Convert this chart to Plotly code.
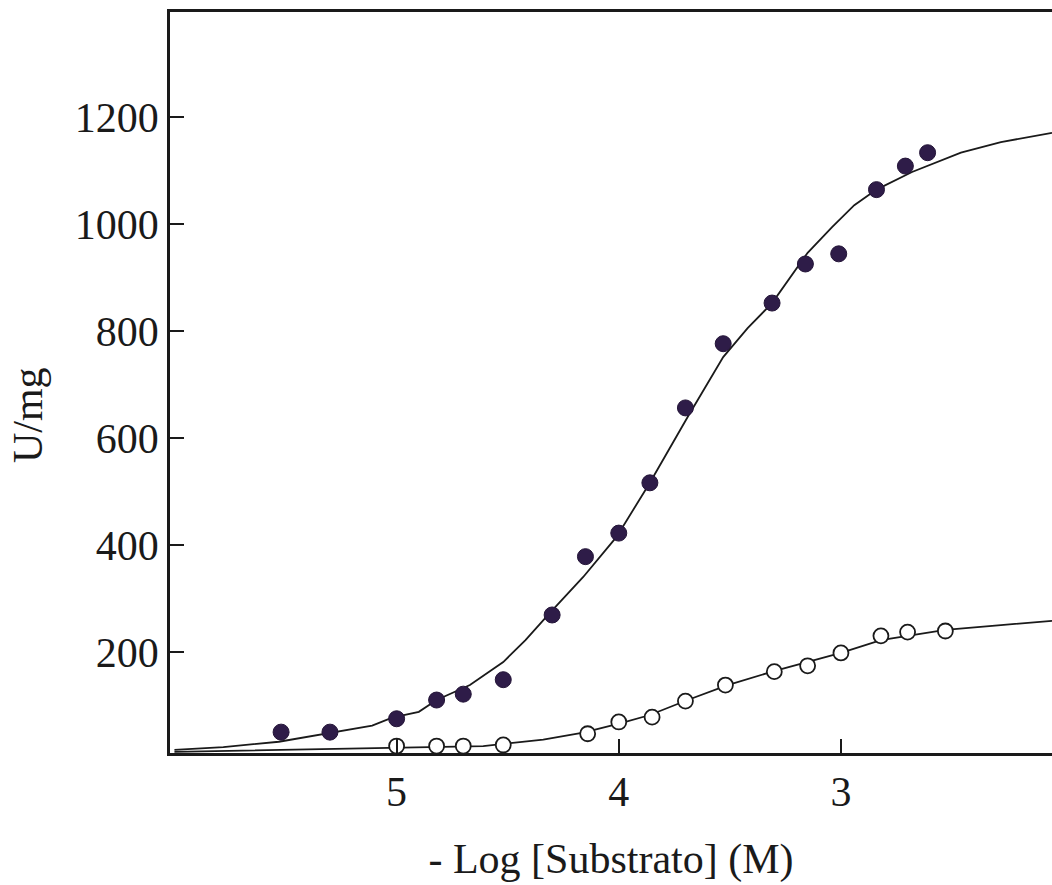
import plotly.graph_objects as go

# -log[S] (M) and activity (U/mg) for the two enzyme preparations
x_filled = [5.52, 5.30, 5.00, 4.82, 4.70, 4.52, 4.30, 4.15, 4.00, 3.86, 3.70, 3.53, 3.31, 3.16, 3.01, 2.84, 2.71, 2.61]
y_filled = [50, 50, 75, 110, 121, 148, 269, 378, 422, 516, 656, 776, 852, 925, 944, 1064, 1108, 1133]

x_open = [5.00, 4.82, 4.70, 4.52, 4.14, 4.00, 3.85, 3.70, 3.52, 3.30, 3.15, 3.00, 2.82, 2.70, 2.53]
y_open = [24, 24, 24, 26, 47, 69, 78, 108, 138, 163, 174, 198, 230, 237, 239]

# fitted saturation curves
x_fit_filled = [6.00, 5.78, 5.53, 5.30, 5.11, 5.02, 4.90, 4.82, 4.67, 4.52, 4.42, 4.31, 4.16, 4.01,
                3.86, 3.69, 3.53, 3.42, 3.31, 3.15, 3.04, 2.94, 2.84, 2.68, 2.46, 2.28, 2.05]
y_fit_filled = [17, 22, 32, 49, 62, 77, 88, 110, 138, 181, 222, 273, 340, 415,
                516, 639, 751, 805, 852, 946, 994, 1035, 1064, 1097, 1133, 1153, 1170]

x_fit_open = [6.00, 5.44, 5.02, 4.61, 4.34, 4.16, 3.99, 3.86, 3.69, 3.51, 3.31, 3.00, 2.82, 2.53, 2.28, 2.05]
y_fit_open = [13, 17, 21, 24, 36, 49, 67, 82, 110, 138, 163, 198, 222, 241, 250, 258]

y_ticks = [200, 400, 600, 800, 1000, 1200]
x_ticks = [5, 4, 3]

FONT = "Liberation Serif"
INK = "#1a1a1a"

fig = go.Figure()
fig.add_trace(go.Scatter(x=x_fit_filled, y=y_fit_filled, mode="lines",
                         line=dict(color=INK, width=1.8), showlegend=False))
fig.add_trace(go.Scatter(x=x_fit_open, y=y_fit_open, mode="lines",
                         line=dict(color=INK, width=1.8), showlegend=False))
fig.add_trace(go.Scatter(x=x_filled, y=y_filled, mode="markers",
                         marker=dict(size=16, color="#2e1c48", line=dict(color="#241538", width=1)),
                         showlegend=False))
fig.add_trace(go.Scatter(x=x_open, y=y_open, mode="markers",
                         marker=dict(size=15, color="white", line=dict(color=INK, width=1.8)),
                         showlegend=False))

fig.update_layout(
    width=1052, height=885,
    margin=dict(l=170, r=0, t=12, b=132),
    paper_bgcolor="white", plot_bgcolor="white",
    font=dict(family=FONT, color=INK, size=42),
    xaxis=dict(range=[6.02, 2.05], tickvals=x_ticks, ticktext=[str(v) for v in x_ticks],
               ticks="inside", ticklen=14, tickwidth=2, tickcolor=INK,
               showline=True, linecolor=INK, linewidth=2.5, mirror=True,
               showgrid=False, zeroline=False,
               tickfont=dict(family=FONT, size=42),
               title=dict(text="- Log [Substrato] (M)", font=dict(family=FONT, size=42), standoff=30)),
    yaxis=dict(range=[11, 1396], tickvals=y_ticks,
               ticks="inside", ticklen=14, tickwidth=2, tickcolor=INK,
               showline=True, linecolor=INK, linewidth=2.5,
               showgrid=False, zeroline=False,
               tickfont=dict(family=FONT, size=42)),
    annotations=[dict(text="U/mg", textangle=-90, showarrow=False,
                      xref="paper", yref="paper", x=0, y=0.456,
                      xanchor="center", yanchor="middle", xshift=-142,
                      font=dict(family=FONT, size=42, color=INK))],
)

fig.write_html("out.html")
